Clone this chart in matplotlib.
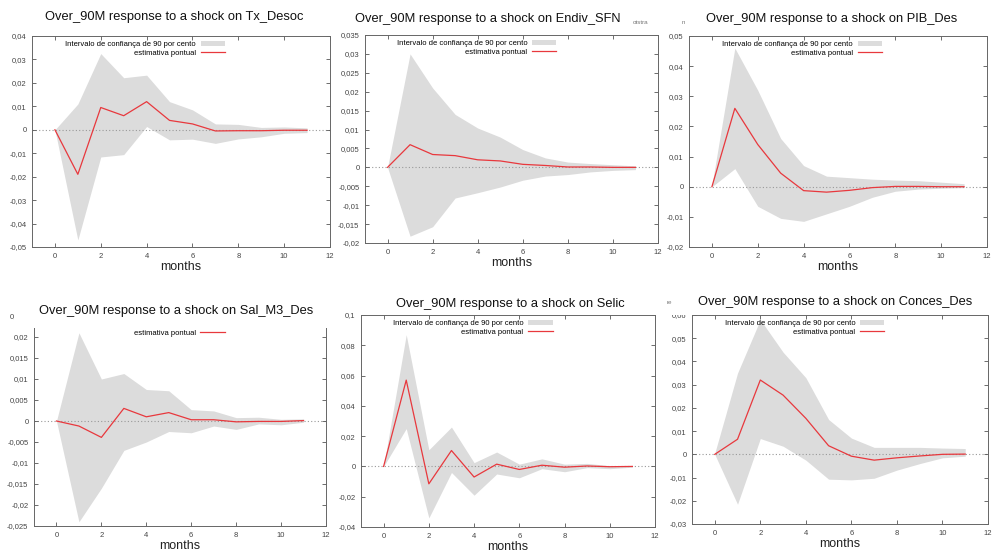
import numpy as np
import matplotlib
matplotlib.use("Agg")
import matplotlib.pyplot as plt
from matplotlib.ticker import FuncFormatter, MultipleLocator
from matplotlib.patches import Rectangle

plt.rcParams['font.family'] = ['Liberation Sans', 'DejaVu Sans']

months = list(range(12))

shocks = ["Tx_Desoc", "Endiv_SFN", "PIB_Des", "Sal_M3_Des", "Selic", "Conces_Des"]

# point estimates
irf_desoc = [0, -0.019, 0.0095, 0.006, 0.012, 0.004, 0.0025, -0.0005, -0.0004, -0.0004, -0.0002, -0.0002]
irf_endiv = [0, 0.006, 0.0034, 0.0031, 0.002, 0.0017, 0.0008, 0.0005, 0.0001, 0.0001, 0.0, 0.0]
irf_pib = [0, 0.026, 0.014, 0.0045, -0.0013, -0.0018, -0.0012, -0.0003, 0.0001, 0.0001, 0.0, 0.0]
irf_sal = [0, -0.0012, -0.0039, 0.003, 0.001, 0.002, 0.0003, 0.0003, -0.0002, -0.0001, -0.0001, 0.0001]
irf_selic = [0, 0.057, -0.0115, 0.0105, -0.007, 0.0015, -0.002, 0.0008, -0.0005, 0.0003, -0.0002, 0.0]
irf_conces = [0, 0.0065, 0.032, 0.0255, 0.0155, 0.0037, -0.0008, -0.0025, -0.0015, -0.0007, 0.0, 0.0001]

# 90% bootstrap band, upper
up_desoc = [0, 0.011, 0.0325, 0.0222, 0.0233, 0.012, 0.0085, 0.0025, 0.0023, 0.001, 0.0012, 0.0008]
up_endiv = [0, 0.030, 0.021, 0.014, 0.0104, 0.008, 0.0047, 0.0025, 0.0014, 0.001, 0.0007, 0.0004]
up_pib = [0.0005, 0.046, 0.032, 0.016, 0.007, 0.0035, 0.003, 0.0025, 0.0022, 0.002, 0.0015, 0.001]
up_sal = [0, 0.021, 0.010, 0.0113, 0.0075, 0.0072, 0.0027, 0.0024, 0.0008, 0.0009, 0.0004, 0.0005]
up_selic = [0, 0.087, 0.011, 0.026, 0.0025, 0.0095, 0.0015, 0.005, 0.0015, 0.002, 0.0005, 0.0005]
up_conces = [0.0005, 0.035, 0.058, 0.044, 0.033, 0.015, 0.007, 0.003, 0.003, 0.003, 0.0027, 0.0025]

# lower
lo_desoc = [0, -0.047, -0.0116, -0.0106, 0.0014, -0.0043, -0.004, -0.0058, -0.0039, -0.003, -0.0015, -0.0012]
lo_endiv = [0, -0.0182, -0.0157, -0.0081, -0.0067, -0.0052, -0.0034, -0.0023, -0.0019, -0.0012, -0.0008, -0.0006]
lo_pib = [0, 0.006, -0.0065, -0.0105, -0.0115, -0.009, -0.0065, -0.0035, -0.0015, -0.0008, -0.0005, -0.0003]
lo_sal = [0, -0.024, -0.016, -0.007, -0.005, -0.0025, -0.0028, -0.0012, -0.002, -0.0007, -0.0009, -0.0003]
lo_selic = [0, 0.025, -0.034, -0.004, -0.019, -0.005, -0.0075, -0.0015, -0.0035, -0.0008, -0.0015, -0.0005]
lo_conces = [0, -0.0215, 0.0068, 0.0035, -0.0025, -0.0107, -0.011, -0.0103, -0.0068, -0.004, -0.0015, -0.0008]

irfs = [irf_desoc, irf_endiv, irf_pib, irf_sal, irf_selic, irf_conces]
ups = [up_desoc, up_endiv, up_pib, up_sal, up_selic, up_conces]
los = [lo_desoc, lo_endiv, lo_pib, lo_sal, lo_selic, lo_conces]

ylims = [(-0.05, 0.04), (-0.02, 0.035), (-0.02, 0.05), (-0.025, 0.025), (-0.04, 0.1), (-0.03, 0.06)]
ysteps = [0.01, 0.005, 0.01, 0.005, 0.02, 0.01]

W, H = 997, 551
# pixel boxes: left, top, right, bottom
boxes = [(32, 36, 330, 247), (365, 35, 658, 243), (689, 36, 987, 247),
         (34, 316, 326, 526), (361, 315, 655, 527), (692, 315, 988, 524)]
titles_xy = [(174, 17), (488, 19), (832, 19), (176, 311), (510, 304), (835, 302)]

fig = plt.figure(figsize=(W / 100, H / 100), dpi=100)

def comma(v, pos):
    v = round(v, 4)
    if v == 0:
        return "0"
    return ("%g" % v).replace(".", ",")

for i in range(6):
    l, t, r, b = boxes[i]
    ax = fig.add_axes([l / W, 1 - b / H, (r - l) / W, (b - t) / H])
    ax.fill_between(months, los[i], ups[i], color="#dcdcdc", lw=0,
                    label="Intervalo de confiança de 90 por cento")
    ax.axhline(0, color="#999999", lw=0.8, ls=(0, (1, 2)), zorder=1)
    ax.plot(months, irfs[i], color="#e8383d", lw=0.9, label="estimativa pontual")
    ax.set_xlim(-1, 12)
    ax.set_ylim(*ylims[i])
    ax.xaxis.set_major_locator(MultipleLocator(2))
    ax.yaxis.set_major_locator(MultipleLocator(ysteps[i]))
    ax.yaxis.set_major_formatter(FuncFormatter(comma))
    ax.tick_params(direction="in", length=3, width=0.6, labelsize=5.5,
                   colors="#555555", labelcolor="#444444", top=True, right=True, pad=4)
    for s in ax.spines.values():
        s.set_color("#666666")
        s.set_linewidth(0.7)
    ax.set_xlabel("months", fontsize=9, labelpad=1, color="#222222")
    ax.legend(loc="upper center", bbox_to_anchor=(0.38, 1.0), markerfirst=False,
              frameon=False, fontsize=5.5, handlelength=3.2, handleheight=0.6,
              labelspacing=0.15, borderaxespad=0.3, handletextpad=0.6)
    tx, ty = titles_xy[i]
    fig.text(tx / W, 1 - ty / H, "Over_90M response to a shock on " + shocks[i],
             ha="center", va="center", fontsize=9.3, color="#111111",
             bbox=dict(facecolor="white", edgecolor="none", pad=3.5), zorder=10)

# the lower-left screenshot is cropped over its top edge
fig.add_artist(Rectangle((14 / W, 1 - 327.5 / H), 318 / W, 28.5 / H, transform=fig.transFigure,
                         facecolor="white", edgecolor="none", zorder=9))
# and the lower-right one clips the top of its first tick label
fig.add_artist(Rectangle((660 / W, 1 - 314.5 / H), 30 / W, 6 / H, transform=fig.transFigure,
                         facecolor="white", edgecolor="none", zorder=9))

# stray fragments of the neighbouring screenshot
fig.text(633 / W, 1 - 22 / H, "otstra", fontsize=4.5, color="#777777", va="center")
fig.text(682 / W, 1 - 23 / H, "n", fontsize=4.5, color="#777777", va="center")
fig.text(667 / W, 1 - 303 / H, "re", fontsize=4.5, color="#777777", va="center")

fig.savefig("out.png", dpi=100, facecolor="white")
